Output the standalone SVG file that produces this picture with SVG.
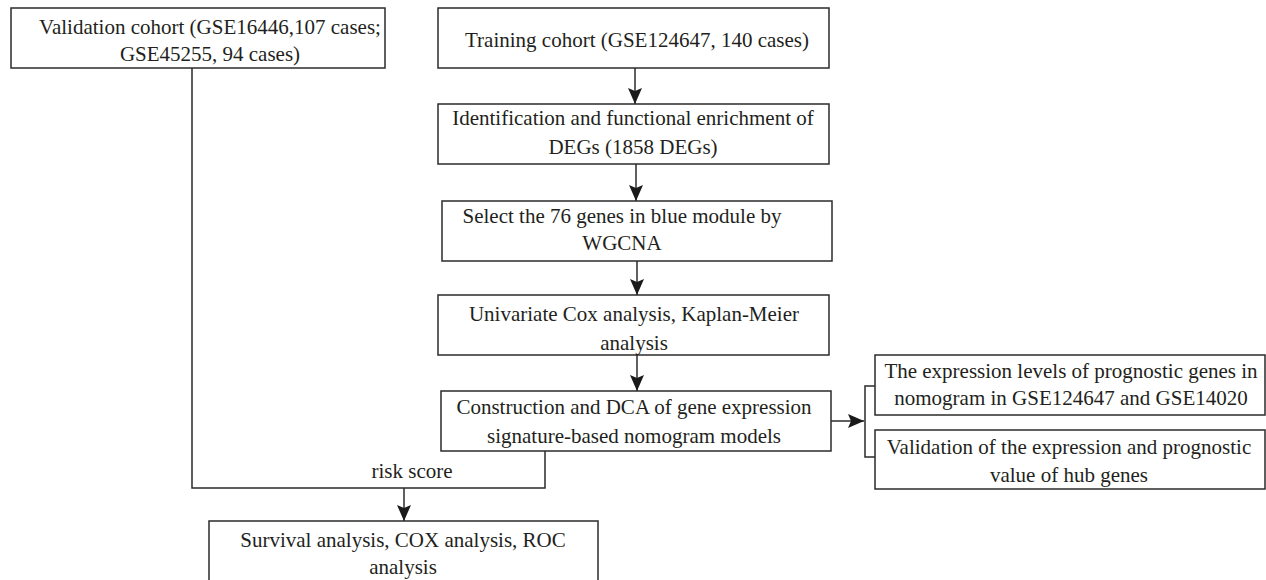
<svg xmlns="http://www.w3.org/2000/svg" width="1266" height="580" viewBox="0 0 1266 580">
<style>
.box{fill:#fff;stroke:#2b2b2b;stroke-width:1.5}
.t{font-family:"Liberation Serif","Times New Roman",serif;font-size:21px;fill:#231f20;text-anchor:middle}
.c{fill:none;stroke:#2b2b2b;stroke-width:1.5}
</style>
<defs>
<marker id="ah" markerUnits="userSpaceOnUse" markerWidth="17" markerHeight="14" refX="16" refY="7" orient="auto">
<path d="M0,0 L16,7 L0,14 L3,7 z" fill="#1a1a1a"/>
</marker>
</defs>
<rect width="1266" height="580" fill="#fff"/>
<g id="connectors">
<line class="c" x1="635" y1="68" x2="635" y2="104" marker-end="url(#ah)"/>
<line class="c" x1="636" y1="164" x2="636" y2="201" marker-end="url(#ah)"/>
<line class="c" x1="637" y1="261" x2="637" y2="295" marker-end="url(#ah)"/>
<line class="c" x1="637" y1="355" x2="637" y2="391" marker-end="url(#ah)"/>
<path class="c" d="M545,451 V488 H192 V68"/>
<line class="c" x1="404" y1="488" x2="404" y2="521" marker-end="url(#ah)"/>
<line class="c" x1="831" y1="421" x2="864" y2="421" marker-end="url(#ah)"/>
<path class="c" d="M875,386 H865 V457 H875"/>
<text class="t" x="412" y="478">risk score</text>
</g>
<g id="validation">
<rect class="box" x="11" y="8" width="374" height="60"/>
<text class="t" x="210" y="34">Validation cohort (GSE16446,107 cases;</text>
<text class="t" x="210" y="61">GSE45255, 94 cases)</text>
</g>
<g id="training">
<rect class="box" x="438" y="8" width="391" height="60"/>
<text class="t" x="637" y="47">Training cohort (GSE124647, 140 cases)</text>
</g>
<g id="deg">
<rect class="box" x="438" y="104" width="391" height="60"/>
<text class="t" x="633" y="125">Identification and functional enrichment of</text>
<text class="t" x="633" y="154">DEGs (1858 DEGs)</text>
</g>
<g id="wgcna">
<rect class="box" x="442" y="201" width="390" height="60"/>
<text class="t" x="622" y="223">Select the 76 genes in blue module by</text>
<text class="t" x="622" y="250">WGCNA</text>
</g>
<g id="univariate">
<rect class="box" x="438" y="295" width="391" height="60"/>
<text class="t" x="634" y="321">Univariate Cox analysis, Kaplan-Meier</text>
<text class="t" x="634" y="350">analysis</text>
</g>
<g id="construction">
<rect class="box" x="441" y="391" width="390" height="60"/>
<text class="t" x="634" y="414">Construction and DCA of gene expression</text>
<text class="t" x="634" y="443">signature-based nomogram models</text>
</g>
<g id="expression">
<rect class="box" x="875" y="355" width="390" height="60"/>
<text class="t" x="1071" y="378">The expression levels of prognostic genes in</text>
<text class="t" x="1071" y="405">nomogram in GSE124647 and GSE14020</text>
</g>
<g id="hub">
<rect class="box" x="875" y="430" width="390" height="59"/>
<text class="t" x="1069" y="454">Validation of the expression and prognostic</text>
<text class="t" x="1069" y="482">value of hub genes</text>
</g>
<g id="survival">
<rect class="box" x="209" y="521" width="389" height="80"/>
<text class="t" x="403" y="547">Survival analysis, COX analysis, ROC</text>
<text class="t" x="403" y="574">analysis</text>
</g>
</svg>
